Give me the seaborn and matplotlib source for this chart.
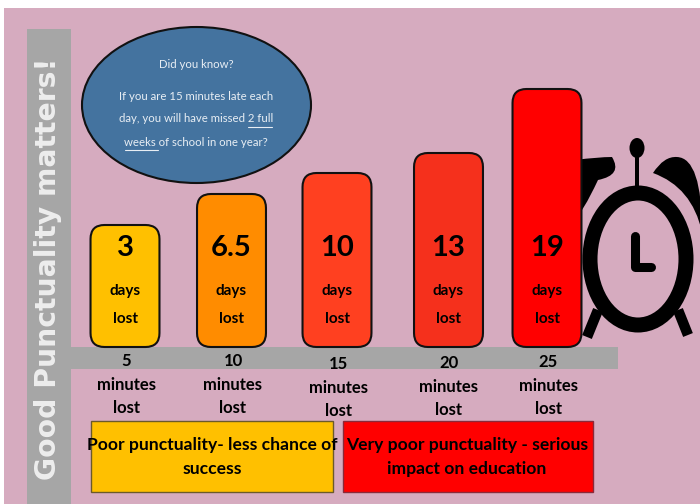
import matplotlib
matplotlib.use("Agg")
import matplotlib.pyplot as plt
from matplotlib.patches import Rectangle, Ellipse, FancyBboxPatch, PathPatch
from matplotlib.path import Path
import pandas as pd
import seaborn as sns

days_lost = ["3", "6.5", "10", "13", "19"]
minutes_lost = ["5", "10", "15", "20", "25"]
bar_centres = [125, 231.5, 337, 448.5, 547]
bar_heights = [122, 153, 174, 194, 258]
bar_colors = ["#FFC000", "#FF8C00", "#FF4020", "#F5301C", "#FF0000"]
minute_xpos = [126, 233, 338, 449, 548]
minute_ypos = [361, 361, 364, 363, 362]
note_lines = ["Did you know?", "If you are 15 minutes late each",
              "day, you will have missed 2 full", "weeks of school in one year?"]
note_ypos = [64, 96, 119, 142]

PINK, GREY, BLUE, BLACK = "#D6ABBF", "#A6A6A6", "#44739F", "#000000"
BASE = 347
FONT = "Lato"

sns.set_theme(style="white")
fig = plt.figure(figsize=(7, 5.04), dpi=100, facecolor="white")

bg = fig.add_axes([0, 0, 1, 1], zorder=0)
bg.set_xlim(0, 700); bg.set_ylim(504, 0); bg.axis("off")
bg.add_patch(Rectangle((4, 8), 696, 496, fc=PINK, ec="none"))
bg.add_patch(Rectangle((27, 29), 44, 475, fc=GREY, ec="none"))
bg.add_patch(Rectangle((71, 347), 547, 22, fc=GREY, ec="none"))
bg.add_patch(Ellipse((196.5, 105), 229, 156, fc=BLUE, ec="#111111", lw=1.5))

# alarm clock
C3, L, M, X = Path.CURVE3, Path.LINETO, Path.MOVETO, Path.CLOSEPOLY
left_bell = Path([(575, 218), (575, 160), (598, 157), (612, 157), (623, 175),
                  (598, 180), (582, 214), (575, 218)],
                 [M, L, C3, C3, C3, C3, C3, X])
right_bell = Path([(653, 173), (664, 156), (677, 157), (702, 158), (702, 232),
                   (692, 187), (653, 173), (653, 173)],
                  [M, C3, C3, C3, C3, C3, C3, X])
bg.add_patch(PathPatch(left_bell, fc=BLACK, ec="none"))
bg.add_patch(PathPatch(right_bell, fc=BLACK, ec="none"))
bg.add_patch(Ellipse((637, 148), 15, 20, fc=BLACK, ec="none"))
bg.add_patch(Rectangle((635, 155), 4, 32, fc=BLACK, ec="none"))
bg.plot([598, 587], [310, 337], color=BLACK, lw=7.5, solid_capstyle="butt")
bg.plot([678, 688], [310, 335], color=BLACK, lw=7.5, solid_capstyle="butt")
bg.add_patch(Ellipse((638, 259), 96, 132, fc=PINK, ec=BLACK, lw=10.8))
bg.plot([635, 635, 651], [236, 267, 267], color=BLACK, lw=6.5,
        solid_capstyle="round", solid_joinstyle="round")

# outcome boxes
bg.add_patch(Rectangle((90.5, 420.5), 242, 71, fc="#FFC000", ec="#6B5A2A", lw=1))
bg.add_patch(Rectangle((343, 420.5), 250, 71, fc="#FF0000", ec="#8A2A3A", lw=1))

# bars
ax = fig.add_axes([0, 0, 1, 1], zorder=1)
ax.patch.set_alpha(0)
df = pd.DataFrame({"x": bar_centres, "h": bar_heights, "d": days_lost})
sns.barplot(data=df, x="x", y="h", hue="d", hue_order=days_lost, palette=bar_colors,
            native_scale=True, dodge=False, width=0.7, saturation=1, legend=False, ax=ax)
ax.set_xlim(0, 700); ax.set_ylim(BASE - 504, BASE); ax.axis("off")
for p in list(ax.patches):
    if p.get_height() <= 0:
        p.remove()
        continue
    x, y, w, h = p.get_x(), p.get_y(), p.get_width(), p.get_height()
    col = p.get_facecolor()
    p.remove()
    r = 14
    ax.add_patch(FancyBboxPatch((x + r, y + r), w - 2 * r, h - 2 * r,
                                boxstyle=f"round,pad={r},rounding_size={r}",
                                fc=col, ec="#111111", lw=1.5))

# text
top = fig.add_axes([0, 0, 1, 1], zorder=2)
top.patch.set_alpha(0)
top.set_xlim(0, 700); top.set_ylim(504, 0); top.axis("off")
def T(x, y, s, size, color=BLACK, weight="bold", family=FONT, **kw):
    top.text(x, y, s, fontsize=size, color=color, fontweight=weight, ha="center",
             va="center", family=family, **kw)

T(48.5, 269, "Good Punctuality matters!", 20.3, color="#EDEDED", rotation=90, family="DejaVu Sans")
for s, y in zip(note_lines, note_ypos):
    T(196, y, s, 8.2, color="#E8EEF4", weight="normal")
top.plot([248, 272], [126.5, 126.5], color="#E8EEF4", lw=0.8)
top.plot([125, 158], [149.5, 149.5], color="#E8EEF4", lw=0.8)

for x, d in zip(bar_centres, days_lost):
    T(x, 248, d, 21, weight="bold")
    T(x, 291, "days", 11)
    T(x, 319, "lost", 11)
for x, y, m in zip(minute_xpos, minute_ypos, minutes_lost):
    T(x, y, m, 12)
    T(x, y + 24, "minutes", 12)
    T(x, y + 47, "lost", 12)

T(212, 445, "Poor punctuality- less chance of", 12.6)
T(212, 469, "success", 12.6)
T(467, 445, "Very poor punctuality - serious", 12.6)
T(467, 469, "impact on education", 12.6)

fig.savefig("out.png", dpi=100)
